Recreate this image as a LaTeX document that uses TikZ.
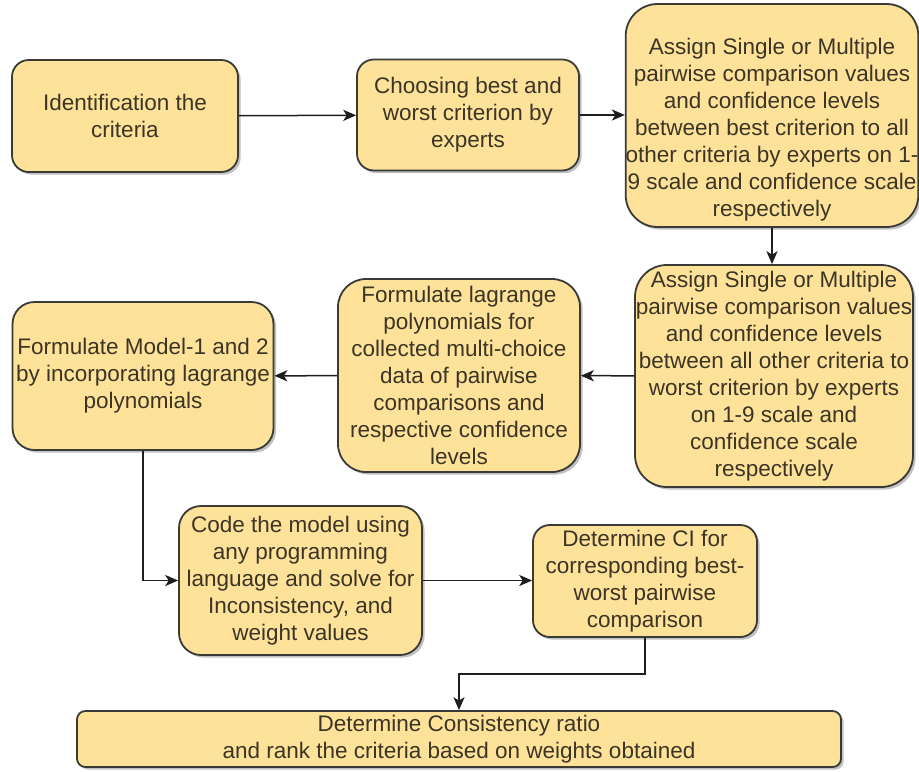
\documentclass[tikz,border=0pt]{standalone}
\usepackage{fontspec}
\setmainfont{Liberation Sans}
\usetikzlibrary{arrows.meta,positioning,shadows}
\definecolor{boxfill}{HTML}{FFE29A}
\definecolor{boxline}{HTML}{3A3A36}
\definecolor{fgtext}{HTML}{3B3525}
\definecolor{conn}{HTML}{1E1E1E}

\begin{document}
\begin{tikzpicture}[
  x=0.5pt,y=-0.5pt,
  >={Stealth[length=6.5pt,width=5.6pt,inset=1.8pt]},
  every node/.append style={text=fgtext, font=\fontsize{11.25}{13.5}\selectfont},
  stepbox/.style={draw=boxline, line width=0.9pt, fill=boxfill, align=center, inner sep=0pt,
    drop shadow={shadow xshift=1.3pt, shadow yshift=-1.3pt, opacity=0.35, fill=black!70}},
  link/.style={->, draw=conn, line width=0.75pt},
]
\useasboundingbox (0,0) rectangle (919,771);

% Top row
\node[stepbox, rounded corners=8.4pt, minimum width=113pt, minimum height=56pt] (ident) at (125,116)
  {Identification the\\criteria};
\node[stepbox, rounded corners=8.4pt, minimum width=111pt, minimum height=55.5pt] (choose) at (468,115)
  {Choosing best and\\worst criterion by\\experts};
\node[stepbox, rounded corners=16pt, minimum width=146pt, minimum height=111.5pt] (assignbest) at (772,115.5)
  {\rule{0pt}{22pt}Assign Single or Multiple\\pairwise comparison values\\and confidence levels\\between best criterion to all\\other criteria by experts on 1-\\9 scale and confidence scale\\respectively};
\draw[link] (ident) -- (choose);
\draw[link] (choose.east) -- (choose.east -| assignbest.west);

% Middle row
\node[stepbox, rounded corners=16pt, minimum width=139pt, minimum height=111pt] (assignworst) at (774,376)
  {Assign Single or Multiple\\pairwise comparison values\\and confidence levels\\between all other criteria to\\worst criterion by experts\\on 1-9 scale and\\confidence scale\\respectively};
\node[stepbox, rounded corners=14pt, minimum width=121pt, minimum height=96.5pt] (lagrange) at (459,375.5)
  {Formulate lagrange\\polynomials for\\collected multi-choice\\data of pairwise\\comparisons and\\respective confidence\\levels};
\node[stepbox, rounded corners=11pt, minimum width=130.5pt, minimum height=74pt] (model) at (143,376)
  {Formulate Model-1 and 2\\by incorporating lagrange\\polynomials};
\draw[link] (assignbest.south) -- (assignbest.south |- assignworst.north);
\draw[link] (assignworst) -- (lagrange);
\draw[link] (lagrange) -- (model);

% Bottom rows
\node[stepbox, rounded corners=11pt, minimum width=121.5pt, minimum height=74.5pt] (code) at (300.5,580.5)
  {Code the model using\\any programming\\language and solve for\\Inconsistency, and\\weight values};
\node[stepbox, rounded corners=8.4pt, minimum width=112pt, minimum height=56pt] (ci) at (645,581)
  {Determine CI for\\corresponding best-\\worst pairwise\\comparison};
\node[stepbox, rounded corners=4.2pt, minimum width=382pt, minimum height=28pt] (rank) at (459,739)
  {Determine Consistency ratio\\and rank the criteria based on weights obtained};
\draw[link] (model.south) |- (code.west);
\draw[link] (code.east) -- (code.east -| ci.west);
\draw[link] (ci.south) -- ++(0,36) -| (rank.north);

\end{tikzpicture}
\end{document}
